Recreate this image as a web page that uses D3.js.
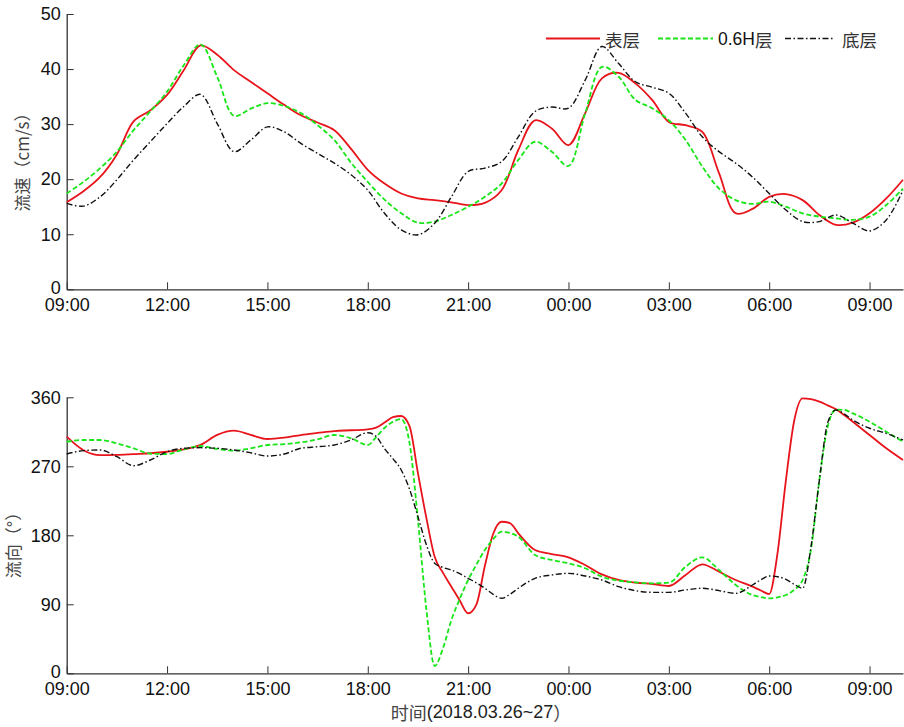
<!DOCTYPE html>
<html><head><meta charset="utf-8">
<script src="https://cdn.jsdelivr.net/npm/d3@7"></script>
<style>
body{margin:0;background:#fff;}
svg{display:block;}
</style></head>
<body>
<script>
// ---------- DATA ----------
const timeTicks = ["09:00","12:00","15:00","18:00","21:00","00:00","03:00","06:00","09:00"];
const tickHours = [0,3,6,9,12,15,18,21,24];
const seriesNames = ["表层","0.6H层","底层"];

// Speed (cm/s), hours after 09:00 on 2018.03.26
const speedHours = [0,0.5,1,1.5,2,2.5,3,3.5,4,4.5,5,5.5,6,6.5,7,7.5,8,8.5,9,9.5,10,10.5,11,11.5,12,12.5,13,13.5,14,14.5,15,15.5,16,16.5,17,17.5,18,18.5,19,19.5,20,20.5,21,21.5,22,22.5,23,23.5,24,24.5,25];
const speedSurface = [15.8,17.8,20.4,24.5,30.5,32.5,35.3,39.8,44.3,42.6,39.8,37.7,35.6,33.5,31.6,30.3,28.9,25.5,21.7,19.2,17.4,16.5,16.2,15.8,15.3,15.7,18.0,25.3,30.7,29.2,26.2,32.0,38.3,39.3,37.4,34.4,30.4,29.8,28.6,21.1,13.8,14.6,16.8,17.3,16.2,13.5,11.7,12.1,13.8,16.5,19.9];
const speed06H = [17.4,19.5,22.0,25.0,28.9,32.3,35.9,40.7,44.5,38.6,31.5,32.8,33.8,33.3,32.0,29.8,27.1,23.0,19.5,16.3,13.8,12.1,12.3,13.5,15.0,16.8,19.2,23.5,26.8,25.0,22.4,32.0,40.4,38.6,34.4,32.9,30.7,27.1,22.3,18.3,16.2,15.5,15.9,15.0,13.8,13.2,12.9,12.6,13.2,15.3,18.3];
const speedBottom = [15.6,15.1,16.8,19.9,23.5,26.8,30.1,33.2,35.4,30.1,25.0,27.1,29.5,28.6,26.5,24.7,22.9,20.8,18.0,13.8,10.8,9.9,12.0,16.8,21.4,22.0,23.2,27.7,32.3,33.1,32.9,38.0,44.1,41.0,37.7,36.7,35.6,32.0,27.7,25.0,22.9,20.4,17.4,14.4,12.3,12.3,13.5,12.0,10.6,12.6,18.0];

// Direction (degrees)
const dirHours = [0,0.5,1,1.5,2,2.5,3,3.5,4,4.5,5,5.5,6,6.5,7,7.5,8,8.5,9,
  9.25,9.5,9.75,10,10.25,10.5,10.75,11,11.25,11.5,11.75,12,12.25,12.5,12.75,13,13.25,13.5,
  14,14.5,15,15.5,16,16.5,17,17.5,18,18.5,19,19.5,20,20.5,
  20.75,21,21.25,21.5,21.75,22,22.25,22.5,22.75,23,23.25,23.5,
  24,24.5,25];
const dirSurface = [308.6,291,284.7,285,286,287,289,292,298,311,316.5,311,305.6,307.3,310.8,313.5,316,317,318.2,
  320.5,327,334,335.6,322,261,203,152,131,113,95,78.3,90,140,182,197.7,196,182.6,
  160.8,155.6,151.3,141.2,129,121.7,118.2,116.5,113.9,128.2,142.2,132.5,121.7,113,
  108,103.4,157,252,330,358.7,357.5,354.3,349.5,344.3,336.5,328.2,
  310.8,293.5,278.2];
const dir06H = [302,304.3,304.3,300,293.5,286.5,286,292,296.5,292.6,290.4,293.5,297.8,299,301.3,305.2,310.8,306.5,297.8,
  308,320,328,331.5,300,200,84,9.5,33,69.5,97,121.7,142,160.8,175,184.7,183,178.2,
  154.3,147.8,143.5,137,126,120.8,118.7,117.4,118.2,139,151.3,134.7,115.2,102.1,
  99.5,97.8,99,102.1,109,121.7,162,252,322,344,343.5,339.1,
  328.2,315.1,302];
const dirBottom = [286,290.4,291.3,282.5,270.8,278.2,289,293.5,294.3,293.5,291.3,287.7,283.4,286,293.5,295.5,297.8,304.3,313.8,
  309,293,280,265.2,240,204.3,168,143.5,138,134.7,130,123.9,118,110.9,103,97.8,103,110.9,
  123.9,128.2,130.4,126.9,121.7,113,107.8,105.6,105.6,108.7,110.9,107.8,104.3,115.2,
  122,126.9,126,122.6,116,110.9,165,252,327,343.4,338,330.4,
  319.6,313,304.3];

const speedTicks = [0,10,20,30,40,50];
const dirTicks = [0,90,180,270,360];

// ---------- STYLE ----------
const W = 904, H = 727;
const styles = [
  {color:"#e8141b", dash:null, width:1.8},
  {color:"#19e619", dash:"5,2.5", width:1.8},
  {color:"#111", dash:"6,2.5,1.5,2.5", width:1.4}
];
const latin = "Arial, 'Liberation Sans', sans-serif";
const cjk = "'Noto Sans CJK SC', 'Liberation Sans', sans-serif";
const tickFont = 18;

const svg = d3.select("body").append("svg").attr("width",W).attr("height",H);

const x = d3.scaleLinear().domain([0,25]).range([66.7,903]);

function panel(opts){
  const y = d3.scaleLinear().domain(opts.domain).range(opts.range);
  const g = svg.append("g");
  // x axis
  const xa = d3.axisBottom(x).tickValues(tickHours).tickFormat((d,i)=>timeTicks[i]).tickSizeInner(-7).tickSizeOuter(0).tickPadding(8);
  const gx = g.append("g").attr("transform",`translate(0,${opts.range[0]})`).call(xa);
  gx.select(".domain").attr("stroke","#333").attr("stroke-width",1.3);
  gx.selectAll(".tick line").attr("stroke","#333").attr("stroke-width",1);
  gx.selectAll(".tick text").attr("font-family",latin).attr("font-size",tickFont).attr("fill","#111").attr("dy","0.74em");
  // y axis
  const ya = d3.axisLeft(y).tickValues(opts.ticks).tickSizeInner(-7).tickSizeOuter(0).tickPadding(6);
  const gy = g.append("g").attr("transform",`translate(${x.range()[0]},0)`).call(ya);
  gy.select(".domain").attr("stroke","#333").attr("stroke-width",1.3);
  gy.selectAll(".tick line").attr("stroke","#333").attr("stroke-width",1);
  gy.selectAll(".tick text").attr("font-family",latin).attr("font-size",tickFont).attr("fill","#111")
    .attr("dy",(d)=> d===0 ? "0.22em" : "0.32em");
  // lines
  const line = d3.line().x(d=>x(d[0])).y(d=>y(d[1])).curve(opts.curve);
  opts.series.forEach((vals,i)=>{
    const pts = opts.hours.map((h,j)=>[h,vals[j]]);
    const s = styles[i];
    g.append("path").datum(pts).attr("d",line).attr("fill","none")
      .attr("stroke",s.color).attr("stroke-width",s.width)
      .attr("stroke-dasharray",s.dash).attr("stroke-linejoin","round");
  });
  // y title
  g.append("text").attr("transform",`translate(${opts.titleX},${opts.titleY}) rotate(-90)`)
    .attr("text-anchor","middle").attr("dominant-baseline","central")
    .attr("font-family",cjk).attr("font-size",17).attr("fill","#444").text(opts.title);
  return {g,y};
}

panel({domain:[0,50], range:[289.3,14], ticks:speedTicks, hours:speedHours,
  series:[speedSurface,speed06H,speedBottom], curve:d3.curveCatmullRom.alpha(0.5),
  title:"流速（cm/s）", titleX:21, titleY:158});

panel({domain:[0,360], range:[673.3,397.3], ticks:dirTicks, hours:dirHours,
  series:[dirSurface,dir06H,dirBottom], curve:d3.curveMonotoneX,
  title:"流向（°）", titleX:12, titleY:541});

// x title
const xt = svg.append("text").attr("x",481).attr("y",712).attr("text-anchor","middle")
  .attr("dominant-baseline","central").attr("font-size",18).attr("fill","#444");
xt.append("tspan").attr("font-family",cjk).text("时间");
xt.append("tspan").attr("font-family",latin).attr("fill","#222").text("(2018.03.26~27");
xt.append("tspan").attr("font-family",cjk).text("）");

// legend
const legend = [{x1:546,x2:600,tx:605},{x1:658,x2:713,tx:718},{x1:785,x2:835,tx:842}];
legend.forEach((l,i)=>{
  const s = styles[i];
  svg.append("line").attr("x1",l.x1).attr("x2",l.x2).attr("y1",38.5).attr("y2",38.5)
    .attr("stroke",s.color).attr("stroke-width",s.width).attr("stroke-dasharray",s.dash);
  const t = svg.append("text").attr("x",l.tx).attr("y",39).attr("dominant-baseline","central")
    .attr("font-size",17.5).attr("fill","#333");
  if(i===1){
    t.append("tspan").attr("font-family",latin).attr("fill","#111").text("0.6H");
    t.append("tspan").attr("font-family",cjk).text("层");
  } else {
    t.attr("font-family",cjk).text(seriesNames[i]);
  }
});
</script>
</body></html>
